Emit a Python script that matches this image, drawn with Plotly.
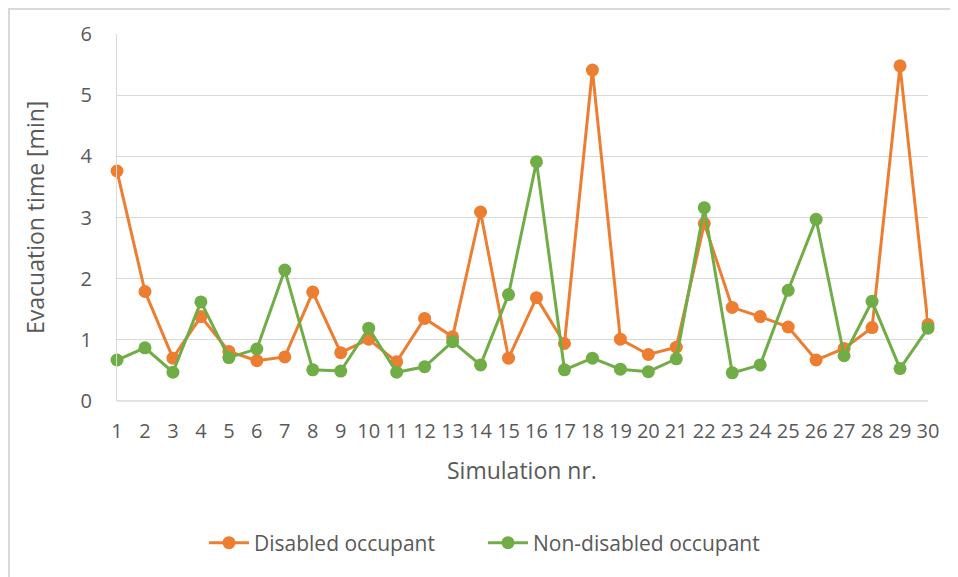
import plotly.graph_objects as go

simulations = list(range(1, 31))
tick_labels = [str(s) for s in simulations]
disabled = [3.76, 1.79, 0.70, 1.38, 0.81, 0.66, 0.72, 1.78, 0.79, 1.01,
            0.64, 1.35, 1.05, 3.09, 0.70, 1.69, 0.94, 5.41, 1.01, 0.76,
            0.88, 2.90, 1.53, 1.38, 1.21, 0.67, 0.86, 1.20, 5.48, 1.25]
non_disabled = [0.67, 0.87, 0.47, 1.62, 0.71, 0.85, 2.14, 0.51, 0.49, 1.19,
                0.47, 0.56, 0.97, 0.59, 1.74, 3.91, 0.51, 0.70, 0.52, 0.48,
                0.69, 3.16, 0.46, 0.59, 1.81, 2.97, 0.74, 1.63, 0.53, 1.19]

FONT = "Open Sans"
GRAY = "#595959"

fig = go.Figure()
fig.add_trace(go.Scatter(x=simulations, y=disabled, mode="lines+markers",
                         name="Disabled occupant",
                         line=dict(color="#ED7D31", width=3),
                         marker=dict(color="#ED7D31", size=13),
                         cliponaxis=False))
fig.add_trace(go.Scatter(x=simulations, y=non_disabled, mode="lines+markers",
                         name="Non-disabled occupant",
                         line=dict(color="#70AD47", width=3),
                         marker=dict(color="#70AD47", size=13),
                         cliponaxis=False))

OFF = 8  # page body margin
W, H = 958 - OFF, 577 - OFF
L, T = 117 - OFF, 34 - OFF
R = W - (928 - OFF)
B = H - (401 - OFF)
pw, ph = W - L - R, H - T - B

def px(xp):
    return (xp - OFF - L) / pw

def py(yp):
    return (H - B - (yp - OFF)) / ph

fig.update_layout(
    width=W, height=H,
    margin=dict(l=L, r=R, t=T, b=B),
    paper_bgcolor="white", plot_bgcolor="white",
    font=dict(family=FONT, size=20, color=GRAY),
    showlegend=True,
    legend=dict(orientation="h", xref="container", yref="container",
                x=(483 - OFF) / W, y=1 - (543 - OFF) / H,
                xanchor="center", yanchor="middle",
                font=dict(family=FONT, size=21, color=GRAY),
                entrywidth=224, entrywidthmode="pixels",
                itemwidth=40, tracegroupgap=0),
    xaxis=dict(range=[1, 30], tickmode="array", tickvals=simulations,
               ticktext=tick_labels, showgrid=False, zeroline=False,
               showline=False, ticks="outside", ticklen=0,
               ticklabelstandoff=12, tickfont=dict(size=20, color=GRAY)),
    yaxis=dict(range=[0, 6], dtick=1, showgrid=True, gridcolor="#d9d9d9",
               gridwidth=1, zeroline=False, showline=True, linecolor="#d9d9d9",
               linewidth=1, ticks="outside", ticklen=0, ticklabelstandoff=20,
               tickfont=dict(size=20, color=GRAY)),
    annotations=[
        dict(text="Evacuation time [min]", xref="paper", yref="paper",
             x=px(35), y=py(218), textangle=-90, showarrow=False,
             font=dict(family=FONT, size=23, color=GRAY),
             xanchor="center", yanchor="middle"),
        dict(text="Simulation nr.", xref="paper", yref="paper",
             x=px(522), y=py(470), showarrow=False,
             font=dict(family=FONT, size=23, color=GRAY),
             xanchor="center", yanchor="middle"),
    ],
    shapes=[
        dict(type="rect", xref="paper", yref="paper",
             x0=px(9), x1=px(975), y0=py(595), y1=py(OFF + 1),
             line=dict(color="#d9d9d9", width=2), fillcolor="rgba(0,0,0,0)",
             layer="below"),
        dict(type="line", xref="paper", yref="paper",
             x0=0, x1=1, y0=0, y1=0,
             line=dict(color="#d9d9d9", width=1.5), layer="below"),
    ],
)

fig.write_html("out.html")
